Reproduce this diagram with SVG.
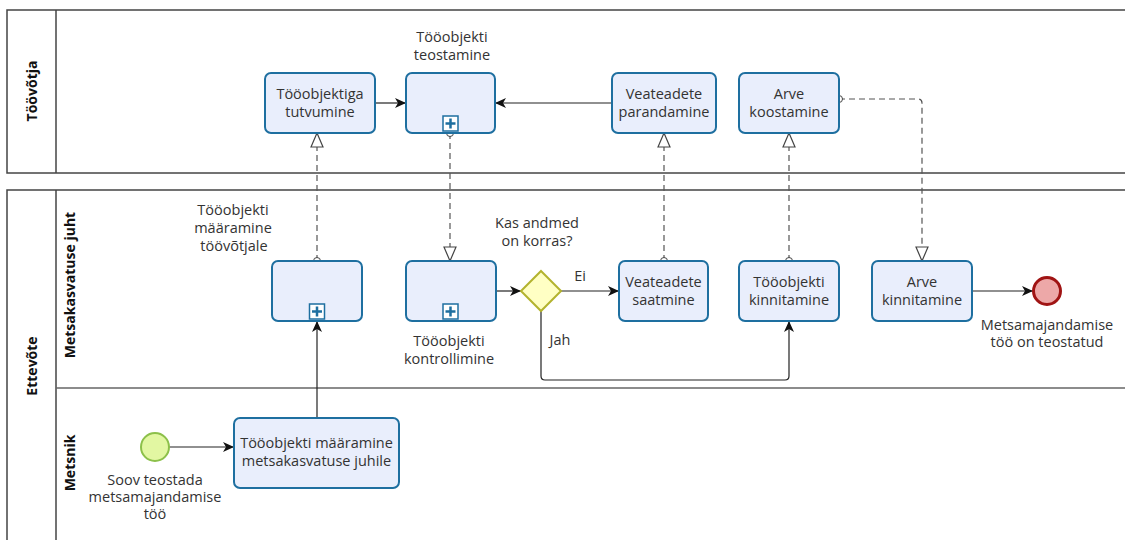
<svg xmlns="http://www.w3.org/2000/svg" width="1125" height="540" viewBox="0 0 1125 540">
<style>
.pool{fill:none;stroke:#444;stroke-width:1.5}
.lane{stroke:#666;stroke-width:1.5;fill:none}
.hdr{font-family:"Open Sans","Noto Sans",sans-serif;font-size:14px;font-weight:bold;fill:#111;text-anchor:middle}
.task{fill:#e9eefc;stroke:#1e6fa0;stroke-width:2}
.lbl{font-family:"Open Sans","Noto Sans",sans-serif;font-size:14.5px;fill:#333;text-anchor:middle}
.seq{fill:none;stroke:#222;stroke-width:1.2}
.msg{fill:none;stroke:#555;stroke-width:1.2;stroke-dasharray:6,4}
.mk{fill:#fff;stroke:#1e6fa0;stroke-width:1.5}
.plus{stroke:#1e6fa0;stroke-width:2.5}
</style>
<defs>
<marker id="arr" markerUnits="userSpaceOnUse" markerWidth="12" markerHeight="12" refX="11" refY="6" orient="auto">
<path d="M0,1 L11,6 L0,11 L3,6 z" fill="#111"/>
</marker>
<marker id="open" markerUnits="userSpaceOnUse" markerWidth="16" markerHeight="14" refX="15" refY="7" orient="auto">
<path d="M1,1 L15,7 L1,13 z" fill="#fff" stroke="#444" stroke-width="1.2"/>
</marker>
<marker id="dot" markerUnits="userSpaceOnUse" markerWidth="10" markerHeight="10" refX="5" refY="5" orient="auto">
<circle cx="5" cy="5" r="3.5" fill="#fff" stroke="#444" stroke-width="1"/>
</marker>
</defs>

<g id="pool-toovotja">
<rect class="pool" x="7" y="10" width="1130" height="163"/>
<line class="pool" x1="56" y1="10" x2="56" y2="173"/>
<text class="hdr" transform="translate(37,91) rotate(-90)">Töövõtja</text>
</g>
<g id="pool-ettevote">
<rect class="pool" x="7" y="190" width="1130" height="360"/>
<line class="pool" x1="56" y1="190" x2="56" y2="550"/>
<line class="lane" x1="56" y1="388" x2="1137" y2="388"/>
<text class="hdr" transform="translate(37,366) rotate(-90)">Ettevõte</text>
<text class="hdr" transform="translate(75,285) rotate(-90)">Metsakasvatuse juht</text>
<text class="hdr" transform="translate(75,463) rotate(-90)">Metsnik</text>
</g>

<g id="connectors">
<path class="seq" d="M169,447 L234,447" marker-end="url(#arr)"/>
<path class="seq" d="M317,418 L317,321" marker-end="url(#arr)"/>
<path class="msg" d="M317,261 L317,133" marker-start="url(#dot)" marker-end="url(#open)"/>
<path class="seq" d="M375,103 L406,103" marker-end="url(#arr)"/>
<path class="seq" d="M612,103 L495,103" marker-end="url(#arr)"/>
<path class="msg" d="M450,133 L450,261" marker-start="url(#dot)" marker-end="url(#open)"/>
<path class="seq" d="M496,291 L521,291" marker-end="url(#arr)"/>
<path class="seq" d="M561,291 L619,291" marker-end="url(#arr)"/>
<text class="lbl" x="580" y="281">Ei</text>
<path class="seq" d="M541,311 L541,376 Q541,380 545,380 L785,380 Q789,380 789,376 L789,321" marker-end="url(#arr)"/>
<text class="lbl" x="560" y="345">Jah</text>
<path class="msg" d="M664,261 L664,133" marker-start="url(#dot)" marker-end="url(#open)"/>
<path class="msg" d="M789,261 L789,133" marker-start="url(#dot)" marker-end="url(#open)"/>
<path class="msg" d="M839,99 L918,99 Q922,99 922,103 L922,261" marker-start="url(#dot)" marker-end="url(#open)"/>
<path class="seq" d="M972,291 L1033,291" marker-end="url(#arr)"/>
</g>

<g id="task-tutvumine">
<rect class="task" x="265" y="73" width="110" height="60" rx="6"/>
<text class="lbl" x="320" y="99">Tööobjektiga</text>
<text class="lbl" x="320" y="117">tutvumine</text>
</g>
<g id="sub-teostamine">
<rect class="task" x="406" y="73" width="89" height="60" rx="6"/>
<rect class="mk" x="443" y="116" width="15" height="15"/>
<path class="plus" d="M450.5,118.5 V128.5 M445.5,123.5 H455.5"/>
<text class="lbl" x="452" y="42">Tööobjekti</text>
<text class="lbl" x="452" y="60">teostamine</text>
</g>
<g id="task-parandamine">
<rect class="task" x="612" y="73" width="104" height="60" rx="6"/>
<text class="lbl" x="664" y="99">Veateadete</text>
<text class="lbl" x="664" y="117">parandamine</text>
</g>
<g id="task-arve-koostamine">
<rect class="task" x="739" y="73" width="100" height="60" rx="6"/>
<text class="lbl" x="789" y="99">Arve</text>
<text class="lbl" x="789" y="117">koostamine</text>
</g>

<g id="sub-maaramine-toovotjale">
<rect class="task" x="272" y="261" width="90" height="60" rx="6"/>
<rect class="mk" x="309.5" y="304" width="15" height="15"/>
<path class="plus" d="M317,306.5 V316.5 M312,311.5 H322"/>
<text class="lbl" x="233" y="215">Tööobjekti</text>
<text class="lbl" x="233" y="233">määramine</text>
<text class="lbl" x="234" y="251">töövõtjale</text>
</g>
<g id="sub-kontrollimine">
<rect class="task" x="406" y="261" width="90" height="60" rx="6"/>
<rect class="mk" x="443" y="304" width="15" height="15"/>
<path class="plus" d="M450.5,306.5 V316.5 M445.5,311.5 H455.5"/>
<text class="lbl" x="449" y="346">Tööobjekti</text>
<text class="lbl" x="449" y="364">kontrollimine</text>
</g>
<g id="gateway">
<path d="M541,271 L561,291 L541,311 L521,291 z" fill="#ffffc4" stroke="#b3b32e" stroke-width="2"/>
<text class="lbl" x="537" y="228">Kas andmed</text>
<text class="lbl" x="537" y="246">on korras?</text>
</g>
<g id="task-saatmine">
<rect class="task" x="619" y="261" width="89" height="60" rx="6"/>
<text class="lbl" x="663.5" y="287">Veateadete</text>
<text class="lbl" x="663.5" y="305">saatmine</text>
</g>
<g id="task-kinnitamine">
<rect class="task" x="739" y="261" width="100" height="60" rx="6"/>
<text class="lbl" x="789" y="287">Tööobjekti</text>
<text class="lbl" x="789" y="305">kinnitamine</text>
</g>
<g id="task-arve-kinnitamine">
<rect class="task" x="872" y="261" width="100" height="60" rx="6"/>
<text class="lbl" x="922" y="287">Arve</text>
<text class="lbl" x="922" y="305">kinnitamine</text>
</g>
<g id="end-event">
<circle cx="1047" cy="291" r="13.5" fill="#eda8a8" stroke="#a01414" stroke-width="3"/>
<text class="lbl" x="1047" y="330">Metsamajandamise</text>
<text class="lbl" x="1047" y="347">töö on teostatud</text>
</g>

<g id="start-event">
<circle cx="155" cy="447" r="14" fill="#e2f7a2" stroke="#8cc04a" stroke-width="2"/>
<text class="lbl" x="155" y="485">Soov teostada</text>
<text class="lbl" x="155" y="502">metsamajandamise</text>
<text class="lbl" x="155" y="519">töö</text>
</g>
<g id="task-maaramine-juhile">
<rect class="task" x="234" y="418" width="165" height="70" rx="6"/>
<text class="lbl" x="316.5" y="448">Tööobjekti määramine</text>
<text class="lbl" x="316.5" y="466">metsakasvatuse juhile</text>
</g>
</svg>
